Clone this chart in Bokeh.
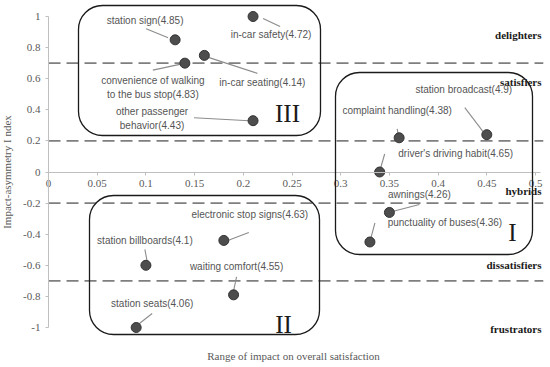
from bokeh.plotting import figure
from bokeh.models import Range1d, FixedTicker, BoxAnnotation, Label, ColumnDataSource
from bokeh.core.properties import value
from bokeh.embed import file_html
from bokeh.resources import INLINE

# ---------------- data ----------------
names = ["in-car safety", "station sign", "convenience of walking\nto the bus stop", "in-car seating",
         "other passenger\nbehavior", "station broadcast", "complaint handling", "driver's driving habit",
         "awnings", "punctuality of buses", "electronic stop signs", "station billboards",
         "waiting comfort", "station seats"]
scores = [4.72, 4.85, 4.83, 4.14, 4.43, 4.9, 4.38, 4.65, 4.26, 4.36, 4.63, 4.1, 4.55, 4.06]
impact_range = [0.21, 0.13, 0.14, 0.16, 0.21, 0.45, 0.36, 0.34, 0.35, 0.33, 0.18, 0.10, 0.19, 0.09]
asym_index = [1.0, 0.85, 0.70, 0.75, 0.33, 0.24, 0.22, 0.0, -0.26, -0.45, -0.44, -0.60, -0.79, -1.0]

thresholds = [0.7, 0.2, -0.2, -0.7]
zone_names = ["delighters", "satisfiers", "hybrids", "dissatisfiers", "frustrators"]
zone_label_y = [0.88, 0.58, -0.12, -0.6, -1.01]

x_ticks = [0, 0.05, 0.1, 0.15, 0.2, 0.25, 0.3, 0.35, 0.4, 0.45, 0.5]
x_tick_labels = ["0", "0.05", "0.1", "0.15", "0.2", "0.25", "0.3", "0.35", "0.4", "0.45", "0.5"]
y_ticks = [-1, -0.8, -0.6, -0.4, -0.2, 0, 0.2, 0.4, 0.6, 0.8, 1]
y_tick_labels = ["-1", "-0.8", "-0.6", "-0.4", "-0.2", "0", "0.2", "0.4", "0.6", "0.8", "1"]

# ---------------- layout (pixels) ----------------
W, H = 550, 367
X0, X1 = -0.0493, 0.5154
Y0, Y1 = -1.2572, 1.1029
sx = W / (X1 - X0)
sy = H / (Y1 - Y0)

def dx(px):
    return px / sx

def dy(px):
    return -px / sy  # screen down -> data

def px_x(px):
    return X0 + px / sx

def px_y(py):
    return Y1 - py / sy

# label centre offsets (screen px, y down) and leader line offsets
label_off = [(18, 18), (-30, -19), (-32, 24), (58, 27), (-101, -2), (-23, -45), (-2, -27), (76, -19),
             (30, -18), (75, -19), (26, -26), (-1, -25), (3, -28), (16, -24)]
lead_a = [(27, 10), (-29, -11), (-32, 7), (53, 18), (-59, -3), (-22, -27), (-2, -9), (5, -18),
          (30, -8), (5, -19), (25, -8), (-1, -16), (3, -18), (16, -14)]
lead_b = [(10, 2), (-7, -2), (-4, 1), (4, 2), (-4, 0), (-3, -2), (-1, -4), (1, -4),
          (3, -1), (1, -4), (4, 0), (1, -5), (0, -4), (2, -3)]

p = figure(width=W, height=H, x_range=Range1d(X0, X1), y_range=Range1d(Y0, Y1),
           output_backend="svg", toolbar_location=None, min_border=0,
           outline_line_color=None)
p.grid.visible = False

axis_col = "#bfbfbf"
tick_col = "#595959"
serif = "Liberation Serif"

for ax in (p.xaxis, p.yaxis):
    ax.fixed_location = 0
    ax.axis_line_color = axis_col
    ax.major_tick_line_color = axis_col
    ax.minor_tick_line_color = None
    ax.major_tick_in = 0
    ax.major_tick_out = 3
    ax.major_label_text_font = serif
    ax.major_label_text_font_size = "11px"
    ax.major_label_text_color = tick_col

p.xaxis.ticker = FixedTicker(ticks=x_ticks)
p.xaxis.major_label_overrides = {float(t): l for t, l in zip(x_ticks, x_tick_labels)}
p.xaxis.bounds = (0, 0.505)
p.yaxis.ticker = FixedTicker(ticks=y_ticks)
p.yaxis.major_label_overrides = {float(t): l for t, l in zip(y_ticks, y_tick_labels)}
p.yaxis.bounds = (-1, 1)
p.yaxis.axis_label = "Impact-asymmetry I ndex"
p.yaxis.axis_label_text_font = serif
p.yaxis.axis_label_text_font_size = "11px"
p.yaxis.axis_label_text_font_style = "normal"
p.yaxis.axis_label_text_color = tick_col
p.yaxis.axis_label_standoff = 7

# dashed thresholds
p.segment(x0=[0] * len(thresholds), x1=[0.508] * len(thresholds), y0=thresholds, y1=thresholds,
          line_color="#7f7f7f", line_width=1.6, line_dash="12 6")

# rounded boxes (quadrants)
for (l, r, t, b) in [(78, 320, 5, 135), (335, 532, 72, 254), (89, 319, 195, 334)]:
    p.add_layout(BoxAnnotation(left=px_x(l), right=px_x(r), top=px_y(t), bottom=px_y(b),
                               fill_alpha=0, line_color="#1a1a1a", line_alpha=1.0,
                               line_width=1.3, border_radius=24))

# roman numerals
for txt, (px, py) in zip(["III", "I", "II"], [(287, 113), (512, 232), (283, 324)]):
    p.add_layout(Label(x=px_x(px), y=px_y(py), text=txt, text_font=serif,
                       text_font_size="25px", text_align="center", text_baseline="middle",
                       text_color="#1a1a1a"))

# zone labels
p.text(x=[px_x(541)] * len(zone_names), y=zone_label_y, text=zone_names, text_font=value(serif),
       text_font_size="11px", text_font_style="bold", text_align="right", text_baseline="middle",
       text_color="#1a1a1a")

# leader lines
p.segment(x0=[x + dx(a[0]) for x, a in zip(impact_range, lead_a)],
          y0=[y + dy(a[1]) for y, a in zip(asym_index, lead_a)],
          x1=[x + dx(b[0]) for x, b in zip(impact_range, lead_b)],
          y1=[y + dy(b[1]) for y, b in zip(asym_index, lead_b)],
          line_color="#8c8c8c", line_width=1.1)

# points
p.scatter(impact_range, asym_index, size=10, fill_color="#4d4d4d", line_color="#333333")

# point labels
lab_text = [f"{n}({s})" for n, s in zip(names, scores)]
src = ColumnDataSource(dict(x=impact_range, y=asym_index, t=lab_text,
                            xo=[o[0] for o in label_off], yo=[o[1] for o in label_off]))
p.text(x="x", y="y", text="t", x_offset="xo", y_offset="yo", source=src,
       text_font=value("Liberation Sans"), text_font_size="10px", text_color="#555555",
       text_align="center", text_baseline="middle", text_line_height=1.3)

# x axis title
p.add_layout(Label(x=px_x(293), y=px_y(355), text="Range of impact on overall satisfaction",
                   text_font=serif, text_font_size="11px", text_align="center",
                   text_baseline="middle", text_color=tick_col))

open("out.html", "w").write(file_html(p, INLINE))
